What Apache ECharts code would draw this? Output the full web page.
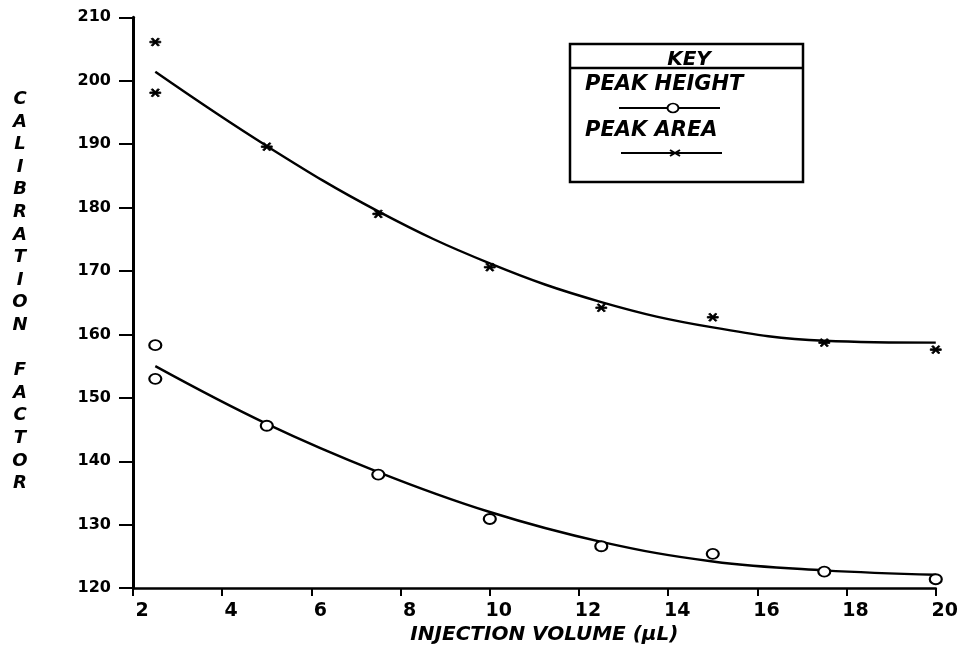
<!DOCTYPE html>
<html><head><meta charset="utf-8">
<script src="https://cdn.jsdelivr.net/npm/echarts@6/dist/echarts.min.js"></script>
<style>html,body{margin:0;padding:0;background:#fff}#c{width:961px;height:650px}</style>
</head><body><div id="c"></div>
<script>
// ---- data ----
const pointVolumes     = [2.5, 2.5, 5, 7.5, 10, 12.5, 15, 17.5, 20];
const peakHeightPoints = [158.3, 153.0, 145.6, 137.9, 130.9, 126.6, 125.4, 122.6, 121.4];
const peakAreaPoints   = [206.1, 198.1, 189.6, 179.0, 170.6, 164.2, 162.7, 158.7, 157.6];
const fitVolumes       = [2.5, 5, 7.5, 10, 12.5, 15, 17.5, 20];
const peakHeightFit    = [155.0, 145.9, 138.3, 132.0, 127.3, 124.2, 122.8, 122.1];
const peakAreaFit      = [201.4, 189.7, 179.4, 171.2, 165.1, 161.1, 159.0, 158.7];
const xTickValues      = [2, 4, 6, 8, 10, 12, 14, 16, 18, 20];
const yTickValues      = [120, 130, 140, 150, 160, 170, 180, 190, 200, 210];
const xAxisTitle = 'INJECTION VOLUME (μL)';
const yAxisTitle = 'CALIBRATION FACTOR';
const keyTitle = 'KEY';
const seriesNames = ['PEAK HEIGHT', 'PEAK AREA'];

const pair = (xs, ys) => xs.map((x, i) => [x, ys[i]]);
const STAR = 'path://M0,4H10V6H0Z M1.2,0.8L2.8,0L8.8,9.2L7.2,10Z M7.2,0L8.8,0.8L2.8,10L1.2,9.2Z';
const FONT = '"DejaVu Sans", sans-serif';

const chart = echarts.init(document.getElementById('c'), null, {renderer: 'canvas'});
chart.setOption({
  animation: false,
  backgroundColor: '#fff',
  grid: {left: 133, right: 24, top: 17.3, bottom: 51, containLabel: false},
  xAxis: {
    type: 'value',
    min: xTickValues[0], max: xTickValues[xTickValues.length - 1],
    interval: xTickValues[1] - xTickValues[0],
    name: xAxisTitle, nameLocation: 'middle', nameGap: 31,
    nameTextStyle: {color: '#000', fontFamily: FONT, fontStyle: 'italic', fontWeight: 'bold', fontSize: 20, padding: [0, 0, 0, 20]},
    axisLine: {lineStyle: {color: '#000', width: 2.5}},
    axisTick: {show: true, length: 8, lineStyle: {color: '#000', width: 2}},
    axisLabel: {color: '#000', fontFamily: FONT, fontWeight: 'bold', fontSize: 19, margin: 13, padding: [0, 0, 0, 18]},
    splitLine: {show: false}
  },
  yAxis: {
    type: 'value',
    min: yTickValues[0], max: yTickValues[yTickValues.length - 1],
    interval: yTickValues[1] - yTickValues[0],
    axisLine: {show: true, lineStyle: {color: '#000', width: 3}},
    axisTick: {show: true, length: 14, lineStyle: {color: '#000', width: 2}},
    axisLabel: {color: '#000', fontFamily: FONT, fontWeight: 'bold', fontSize: 16, margin: 22},
    splitLine: {show: false}
  },
  series: [
    {name: seriesNames[0] + ' fit', type: 'line', smooth: 0.4, symbol: 'none',
     data: pair(fitVolumes, peakHeightFit), lineStyle: {color: '#000', width: 2.4}},
    {name: seriesNames[1] + ' fit', type: 'line', smooth: 0.4, symbol: 'none',
     data: pair(fitVolumes, peakAreaFit), lineStyle: {color: '#000', width: 2.4}},
    {name: seriesNames[0], type: 'scatter', symbol: 'emptyCircle', symbolSize: [12, 10], z: 5,
     data: pair(pointVolumes, peakHeightPoints),
     itemStyle: {color: '#000', borderColor: '#000', borderWidth: 2.4, opacity: 1}},
    {name: seriesNames[1], type: 'scatter', symbol: STAR, symbolSize: [11, 8], z: 5,
     data: pair(pointVolumes, peakAreaPoints),
     itemStyle: {color: '#000', borderColor: '#000', borderWidth: 0.8, opacity: 1}}
  ],
  graphic: [
    {type: 'text', x: 20, y: 291.5, z: 10,
     style: {text: yAxisTitle.split('').join('\n'), fill: '#000', font: 'italic bold 18px ' + FONT,
             align: 'center', verticalAlign: 'middle', lineHeight: 22.6}},
    {type: 'rect', z: 10, shape: {x: 570, y: 44, width: 233, height: 138},
     style: {fill: '#fff', stroke: '#000', lineWidth: 2.5}},
    {type: 'line', z: 11, shape: {x1: 570, y1: 68, x2: 803, y2: 68}, style: {stroke: '#000', lineWidth: 2.5}},
    {type: 'text', z: 11, x: 689, y: 60, style: {text: keyTitle, fill: '#000', font: 'italic bold 20px ' + FONT, align: 'center', verticalAlign: 'middle'}},
    {type: 'text', z: 11, x: 585, y: 85, style: {text: seriesNames[0], fill: '#000', font: 'italic bold 21px ' + FONT, align: 'left', verticalAlign: 'middle'}},
    {type: 'line', z: 11, shape: {x1: 619, y1: 108, x2: 720, y2: 108}, style: {stroke: '#000', lineWidth: 2}},
    {type: 'circle', z: 12, x: 673, y: 108, scaleY: 0.82, shape: {cx: 0, cy: 0, r: 5.5}, style: {fill: '#fff', stroke: '#000', lineWidth: 2}},
    {type: 'text', z: 11, x: 585, y: 131, style: {text: seriesNames[1], fill: '#000', font: 'italic bold 21px ' + FONT, align: 'left', verticalAlign: 'middle'}},
    {type: 'line', z: 11, shape: {x1: 621, y1: 153, x2: 722, y2: 153}, style: {stroke: '#000', lineWidth: 2}},
    {type: 'line', z: 12, shape: {x1: 670, y1: 150, x2: 680, y2: 156}, style: {stroke: '#000', lineWidth: 2}},
    {type: 'line', z: 12, shape: {x1: 670, y1: 156, x2: 680, y2: 150}, style: {stroke: '#000', lineWidth: 2}}
  ]
});
</script></body></html>
